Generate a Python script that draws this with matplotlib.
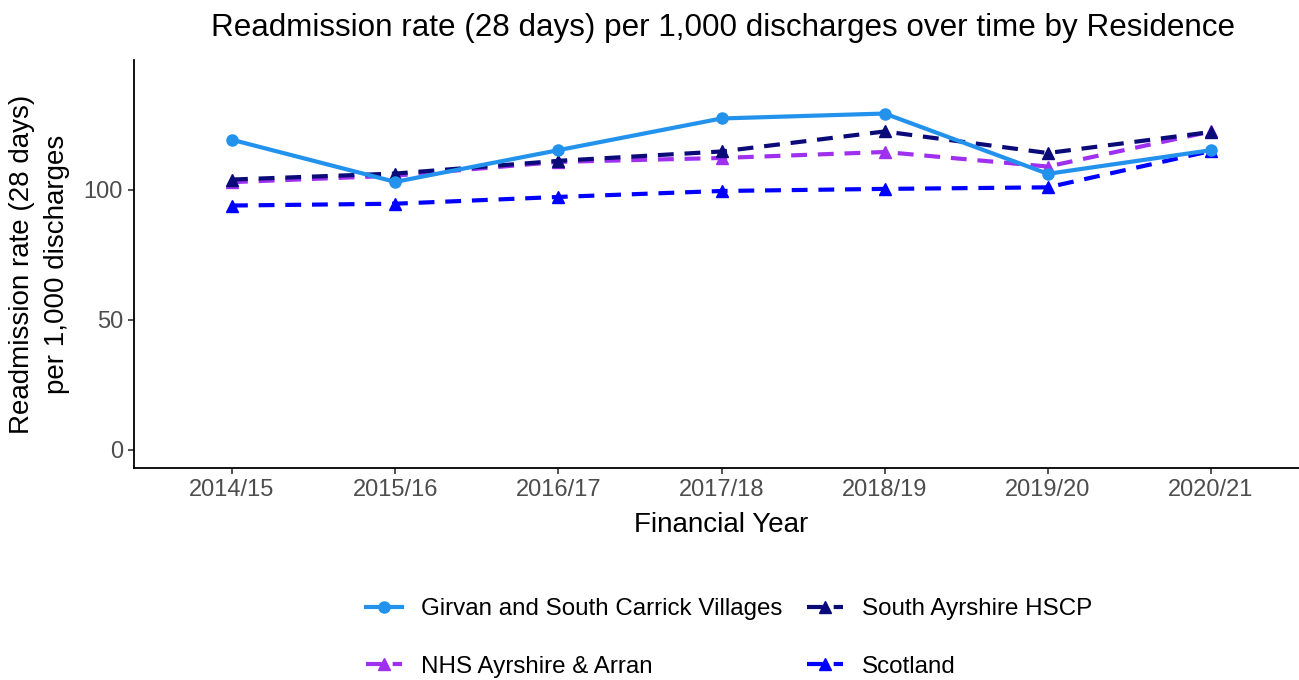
import matplotlib
matplotlib.use("Agg")
import matplotlib.pyplot as plt

plt.rcParams['font.family'] = ['Liberation Sans', 'DejaVu Sans']

years = ["2014/15", "2015/16", "2016/17", "2017/18", "2018/19", "2019/20", "2020/21"]
girvan = [119.3, 103.1, 115.3, 127.5, 129.4, 106.2, 115.3]
south_ayrshire = [104.0, 106.3, 111.2, 114.8, 122.5, 114.2, 122.3]
nhs_aa = [103.0, 105.5, 110.8, 112.3, 114.6, 109.0, 122.5]
scotland = [94.0, 94.7, 97.3, 99.6, 100.4, 101.0, 115.0]

W, H = 1299, 680
fig = plt.figure(figsize=(W / 100, H / 100), dpi=100)

# ggplot-like discrete axis: 0.6 units of padding either side
step = (1211 - 232) / 6
left_px = 232 - 0.6 * step
ax = fig.add_axes([left_px / W, (H - 468) / H, 7.2 * step / W, (468 - 60) / H])

x = list(range(len(years)))
dash = (0, (3.8, 2.6))
ax.plot(x, girvan, color='#2392EC', lw=3, ls='-', marker='o', ms=8,
        label='Girvan and South Carrick Villages', zorder=3)
ax.plot(x, nhs_aa, color='#A030F0', lw=3, ls=dash, marker='^', ms=9,
        label='NHS Ayrshire & Arran', zorder=2)
ax.plot(x, south_ayrshire, color='#0A0A78', lw=3, ls=dash, marker='^', ms=9,
        label='South Ayrshire HSCP', zorder=2)
ax.plot(x, scotland, color='#0000FF', lw=3, ls=dash, marker='^', ms=9,
        label='Scotland', zorder=2)

ax.set_xlim(-0.6, 6.6)
ax.set_ylim(-7, 150)
ax.set_xticks(x)
ax.set_xticklabels(years)
ax.set_yticks([0, 50, 100])

for s in ['top', 'right']:
    ax.spines[s].set_visible(False)
for s in ['left', 'bottom']:
    ax.spines[s].set_linewidth(1.3)
    ax.spines[s].set_color('black')
ax.tick_params(axis='both', colors='#333333', labelcolor='#4D4D4D', labelsize=17,
               length=4, width=1.2, pad=4)

ax.set_xlabel('Financial Year', fontsize=20, labelpad=8)
ax.set_ylabel('Readmission rate (28 days)\nper 1,000 discharges', fontsize=20,
              labelpad=10, linespacing=1.45)
fig.text(723 / W, 1 - 28 / H, 'Readmission rate (28 days) per 1,000 discharges over time by Residence',
         ha='center', va='center', fontsize=22.6)

handles, labels = ax.get_legend_handles_labels()
leg = fig.legend(handles, labels,
                 loc='center', bbox_to_anchor=(729 / W, 1 - 638 / H), ncol=2,
                 frameon=False, fontsize=17.4, handlelength=1.5, handletextpad=0.8,
                 columnspacing=1.0, labelspacing=1.45)

fig.savefig('out.png', dpi=100)
